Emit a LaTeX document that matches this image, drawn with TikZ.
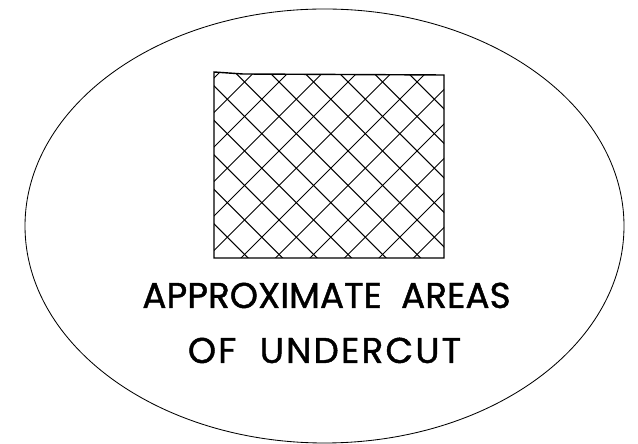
\documentclass[tikz,border=0pt]{standalone}
\usepackage{fontspec}
\newfontfamily\labelfont[FakeBold=1.2]{Poppins}
\tikzset{
    outline/.style={line width=0.6pt},
    areabox/.style={line width=1pt, line join=miter},
    hatchline/.style={line width=0.75pt},
    caption/.style={font=\labelfont\fontsize{25.5}{30}\selectfont, anchor=base, inner sep=0pt}
}
\begin{document}
\begin{tikzpicture}[x=0.025cm, y=-0.025cm]
    \useasboundingbox (0,0) rectangle (638,444);

    % outer ellipse
    \draw[outline] (324.5,226) ellipse [x radius=299.5, y radius=217];

    % cross-hatched area
    \begin{scope}
        \clip (214,258) -- (214,72) -- (243,74) -- (444,75) -- (444,258) -- cycle;
        \foreach \k in {-12,...,2} {
            \pgfmathsetmacro{\c}{335+34.5*\k}
            \draw[hatchline] (150,150-\c) -- (520,520-\c);
        }
        \foreach \m in {-7,...,7} {
            \pgfmathsetmacro{\c}{499+34.5*\m}
            \draw[hatchline] (150,\c-150) -- (520,\c-520);
        }
    \end{scope}
    \draw[areabox] (214,258) -- (214,72) -- (243,74) -- (444,75) -- (444,258) -- cycle;

    \node[caption] (lineone) at (326.5,308) {APPROXIMATE\ \ AREAS};
    \node[caption] (linetwo) at (324.5,363) {\addfontfeature{LetterSpace=6}OF\ \ UNDERCUT};
\end{tikzpicture}
\end{document}
